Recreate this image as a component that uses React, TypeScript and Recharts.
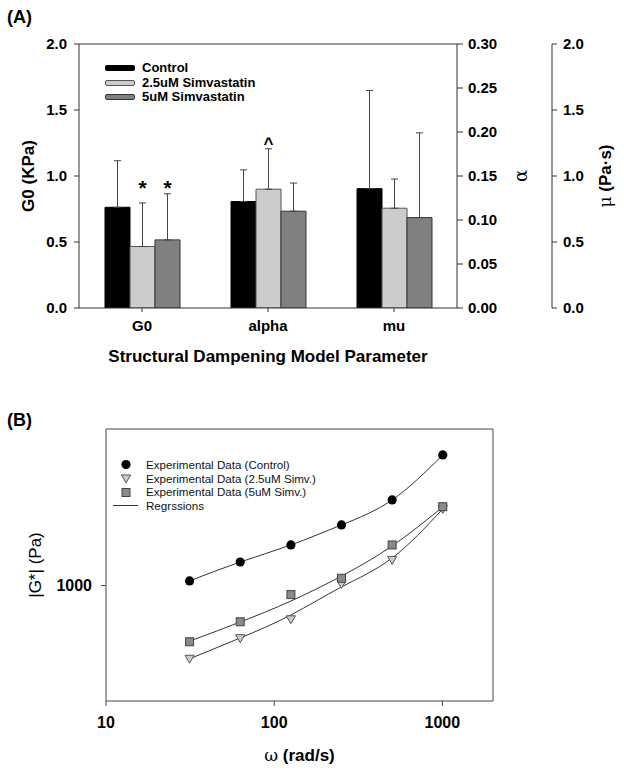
import React from 'react'
import {
  BarChart,
  Bar,
  XAxis,
  YAxis,
  ErrorBar,
  LabelList,
  ReferenceLine,
  Legend,
  ComposedChart,
  Line,
  Scatter,
} from 'recharts'

const F = '"Liberation Sans", Arial, Helvetica, sans-serif'
const SYM = '"DejaVu Serif", "Liberation Serif", serif'

// ---- panel A: structural dampening parameters (native units) ----
const params = ['G0', 'alpha', 'mu']
const seriesNames = ['Control', '2.5uM Simvastatin', '5uM Simvastatin']
const controlMean = [0.763, 0.121, 0.904]
const controlSd = [0.353, 0.036, 0.744]
const simv25Mean = [0.466, 0.135, 0.756]
const simv25Sd = [0.33, 0.046, 0.221]
const simv5Mean = [0.516, 0.11, 0.685]
const simv5Sd = [0.35, 0.032, 0.642]
const simv25Mark = ['*', '^', '']
const simv5Mark = ['*', '', '']
const simv25MarkAt = [0.856, 0.181, 0]
const simv5MarkAt = [0.856, 0, 0]
// alpha is read on the right axis (0-0.30), drawn on the left one (0-2.0)
const toLeftAxis = [1, 2 / 0.3, 1]

const g0Ticks = [0, 0.5, 1, 1.5, 2]
const alphaTicks = [0, 0.05, 0.1, 0.15, 0.2, 0.25, 0.3]
const muTicks = [0, 0.5, 1, 1.5, 2]

// ---- panel B: |G*| vs frequency ----
const omega = [31.4, 62.8, 125.7, 251.3, 502.7, 1005.3]
const gControl = [1021, 1110, 1197, 1308, 1461, 1783]
const g25 = [723, 792, 861, 1007, 1120, 1404]
const g5 = [780, 852, 961, 1033, 1197, 1418]
const fitControl = [1021, 1110, 1197, 1308, 1461, 1783]
const fit25 = [723, 793, 878, 994, 1130, 1404]
const fit5 = [782, 851, 934, 1043, 1192, 1416]
const omegaTicks = [10, 100, 1000]
const gTicks = [1000]

const barColors = ['#000000', '#cccccc', '#808080']
const barStrokes = ['#000000', '#555555', '#333333']

const barRows: any[] = params.map((p, i) => {
  const k = toLeftAxis[i]
  return {
    param: p,
    control: controlMean[i] * k,
    controlErr: [0, controlSd[i] * k],
    simv25: simv25Mean[i] * k,
    simv25Err: [0, simv25Sd[i] * k],
    simv25Mark: simv25Mark[i],
    simv25MarkAt: simv25MarkAt[i] * k,
    simv5: simv5Mean[i] * k,
    simv5Err: [0, simv5Sd[i] * k],
    simv5Mark: simv5Mark[i],
    simv5MarkAt: simv5MarkAt[i] * k,
  }
})

const curveRows = omega.map((w, i) => ({
  w,
  control: gControl[i],
  s25: g25[i],
  s5: g5[i],
  fitControl: fitControl[i],
  fit25: fit25[i],
  fit5: fit5[i],
}))

const tickA = { fill: '#000', fontSize: 15, fontWeight: 'bold', fontFamily: F }
const tickB = { fill: '#000', fontSize: 16, fontWeight: 'bold', fontFamily: F }

const sigLabel = (key: 'simv25' | 'simv5') => (props: any) => {
  const vb = props.viewBox || props
  const x = Number(vb.x)
  const y = Number(vb.y)
  const w = Number(vb.width)
  const h = Number(vb.height)
  const row = barRows.find((r) => r.param === props.value)
  if (!row || !row[key + 'Mark']) return null
  const mark = row[key + 'Mark']
  const bottom = y + h
  const ty = bottom - (row[key + 'MarkAt'] * h) / row[key]
  return (
    <text
      x={x + w / 2}
      y={ty}
      textAnchor="middle"
      fontFamily={F}
      fontWeight="bold"
      fontSize={mark === '*' ? 21 : 17}
      fill="#000"
    >
      {mark}
    </text>
  )
}

const rotTitle = (dx: number, parts: { t: string; sym?: boolean }[], size: number, bold = true) => (props: any) => {
  const vb = props.viewBox
  const cx = vb.x + dx
  const cy = vb.y + vb.height / 2
  return (
    <text
      x={cx}
      y={cy}
      transform={`rotate(-90 ${cx} ${cy})`}
      textAnchor="middle"
      dominantBaseline="central"
      fontSize={size}
      fill="#000"
    >
      {parts.map((p, i) => (
        <tspan key={i} fontFamily={p.sym ? SYM : F} fontWeight={p.sym || !bold ? 'normal' : 'bold'}>
          {p.t}
        </tspan>
      ))}
    </text>
  )
}

const xTitleA = (props: any) => {
  const vb = props.viewBox
  return (
    <text x={vb.x + vb.width / 2} y={vb.y + 54} textAnchor="middle" fontFamily={F} fontWeight="bold" fontSize={17} fill="#000">
      Structural Dampening Model Parameter
    </text>
  )
}

const xTitleB = (props: any) => {
  const vb = props.viewBox
  return (
    <text x={vb.x + vb.width / 2} y={vb.y + 60} textAnchor="middle" fontSize={17} fill="#000">
      <tspan fontFamily={SYM}>ω</tspan>
      <tspan fontFamily={F} fontWeight="bold"> (rad/s)</tspan>
    </text>
  )
}

const LegendA = () => (
  <div style={{ fontFamily: F, fontWeight: 'bold', fontSize: 13, lineHeight: '14.5px', color: '#000' }}>
    {seriesNames.map((n, i) => (
      <div key={n} style={{ display: 'flex', alignItems: 'center', whiteSpace: 'nowrap' }}>
        <span
          style={{
            display: 'inline-block',
            width: 28,
            height: 4,
            background: barColors[i],
            border: `1px solid ${barStrokes[i]}`,
            borderRadius: 2,
            marginRight: 7,
          }}
        />
        {n}
      </div>
    ))}
  </div>
)

const circleShape = (p: any) => <circle cx={p.cx} cy={p.cy} r={4.6} fill="#000" />
const triShape = (p: any) => (
  <path
    d={`M${p.cx - 4.6},${p.cy - 3.6} L${p.cx + 4.6},${p.cy - 3.6} L${p.cx},${p.cy + 4.4} Z`}
    fill="#cccccc"
    stroke="#555"
    strokeWidth={1}
  />
)
const squareShape = (p: any) => (
  <rect x={p.cx - 4} y={p.cy - 4} width={8} height={8} fill="#8a8a8a" stroke="#444" strokeWidth={1} />
)

const legendBItems = [
  'Experimental Data (Control)',
  'Experimental Data (2.5uM Simv.)',
  'Experimental Data (5uM Simv.)',
  'Regrssions',
]

const LegendB = () => (
  <div style={{ fontFamily: F, fontSize: 11.6, lineHeight: '13.7px', color: '#111' }}>
    {legendBItems.map((n, i) => (
      <div key={n} style={{ display: 'flex', alignItems: 'center', whiteSpace: 'nowrap', height: 13.7 }}>
        <svg width={30} height={13} style={{ marginRight: 4 }}>
          {i === 0 && <circle cx={14} cy={6.5} r={4.6} fill="#000" />}
          {i === 1 && <path d="M9.4,2.9 L18.6,2.9 L14,10.9 Z" fill="#cccccc" stroke="#555" />}
          {i === 2 && <rect x={10} y={2.5} width={8} height={8} fill="#8a8a8a" stroke="#444" />}
          {i === 3 && <line x1={1} y1={6.5} x2={26} y2={6.5} stroke="#333" />}
        </svg>
        {n}
      </div>
    ))}
  </div>
)

export default function App() {
  return (
    <div style={{ position: 'absolute', left: 0, top: 0, width: 624, height: 772, background: '#fff' }}>
      <div style={{ position: 'absolute', left: 7, top: 6, fontFamily: F, fontWeight: 'bold', fontSize: 18, lineHeight: '22px' }}>
        (A)
      </div>
      <div style={{ position: 'absolute', left: 7, top: 409, fontFamily: F, fontWeight: 'bold', fontSize: 18, lineHeight: '22px' }}>
        (B)
      </div>

      <div style={{ position: 'absolute', left: 0, top: 0 }}>
        <BarChart
          width={624}
          height={370}
          data={barRows}
          margin={{ top: 44, right: 0, bottom: 0, left: 0 }}
          barSize={25}
          barGap={0}
          barCategoryGap={0}
        >
          <XAxis
            dataKey="param"
            height={62}
            tickSize={4}
            tickMargin={8}
            stroke="#333"
            tick={tickA}
            label={{ content: xTitleA }}
          />
          <YAxis
            yAxisId="g0"
            width={79}
            domain={[0, 2]}
            allowDataOverflow
            ticks={g0Ticks}
            tickFormatter={(v) => Number(v).toFixed(1)}
            tickSize={5}
            tickMargin={7}
            stroke="#333"
            tick={tickA}
            label={{ content: rotTitle(28, [{ t: 'G0 (KPa)' }], 17) }}
          />
          <YAxis
            yAxisId="alpha"
            orientation="right"
            width={95}
            domain={[0, 0.3]}
            allowDataOverflow
            ticks={alphaTicks}
            tickFormatter={(v) => Number(v).toFixed(2)}
            tickSize={6}
            tickMargin={5}
            stroke="#333"
            tick={tickA}
            label={{ content: rotTitle(63, [{ t: 'α', sym: true }], 18) }}
          />
          <YAxis
            yAxisId="mu"
            orientation="right"
            width={72}
            domain={[0, 2]}
            allowDataOverflow
            ticks={muTicks}
            tickFormatter={(v) => Number(v).toFixed(1)}
            tickSize={5}
            tickMargin={6}
            stroke="#333"
            tick={tickA}
            label={{ content: rotTitle(53, [{ t: 'μ', sym: true }, { t: ' (Pa·s)' }], 17) }}
          />
          <ReferenceLine yAxisId="g0" y={2} stroke="#333" />
          <Legend
            layout="vertical"
            align="center"
            verticalAlign="middle"
            content={LegendA}
            wrapperStyle={{ position: 'absolute', left: 105, top: 61, width: 200, height: 45 }}
          />
          <Bar yAxisId="g0" dataKey="control" fill={barColors[0]} stroke={barStrokes[0]} isAnimationActive={false}>
            <ErrorBar dataKey="controlErr" width={3.5} stroke="#444" strokeWidth={1} direction="y" />
          </Bar>
          <Bar yAxisId="g0" dataKey="simv25" fill={barColors[1]} stroke={barStrokes[1]} isAnimationActive={false}>
            <ErrorBar dataKey="simv25Err" width={3.5} stroke="#444" strokeWidth={1} direction="y" />
            <LabelList dataKey="param" content={sigLabel('simv25')} />
          </Bar>
          <Bar yAxisId="g0" dataKey="simv5" fill={barColors[2]} stroke={barStrokes[2]} isAnimationActive={false}>
            <ErrorBar dataKey="simv5Err" width={3.5} stroke="#444" strokeWidth={1} direction="y" />
            <LabelList dataKey="param" content={sigLabel('simv5')} />
          </Bar>
        </BarChart>
      </div>

      <div style={{ position: 'absolute', left: 0, top: 370 }}>
        <ComposedChart width={624} height={402} data={curveRows} margin={{ top: 59, right: 131, bottom: 0, left: 0 }}>
          <XAxis
            dataKey="w"
            type="number"
            scale="log"
            domain={[10, 2000]}
            allowDataOverflow
            ticks={omegaTicks}
            height={71}
            tickSize={5}
            tickMargin={11}
            stroke="#444"
            tick={tickB}
            label={{ content: xTitleB }}
          />
          <YAxis
            type="number"
            scale="log"
            domain={[600, 2000]}
            allowDataOverflow
            ticks={gTicks}
            width={106}
            tickSize={5}
            tickMargin={9}
            stroke="#444"
            tick={tickB}
            label={{ content: rotTitle(35, [{ t: '|G*| (Pa)' }], 17, false) }}
          />
          <ReferenceLine y={2000} stroke="#444" />
          <ReferenceLine x={2000} stroke="#444" />
          <Legend
            layout="vertical"
            align="center"
            verticalAlign="middle"
            content={LegendB}
            wrapperStyle={{ position: 'absolute', left: 112, top: 88, width: 240, height: 56 }}
          />
          <Line dataKey="fitControl" type="natural" stroke="#333" strokeWidth={1} dot={false} isAnimationActive={false} />
          <Line dataKey="fit25" type="natural" stroke="#333" strokeWidth={1} dot={false} isAnimationActive={false} />
          <Line dataKey="fit5" type="natural" stroke="#333" strokeWidth={1} dot={false} isAnimationActive={false} />
          <Scatter dataKey="control" shape={circleShape} isAnimationActive={false} />
          <Scatter dataKey="s25" shape={triShape} isAnimationActive={false} />
          <Scatter dataKey="s5" shape={squareShape} isAnimationActive={false} />
        </ComposedChart>
      </div>
    </div>
  )
}
